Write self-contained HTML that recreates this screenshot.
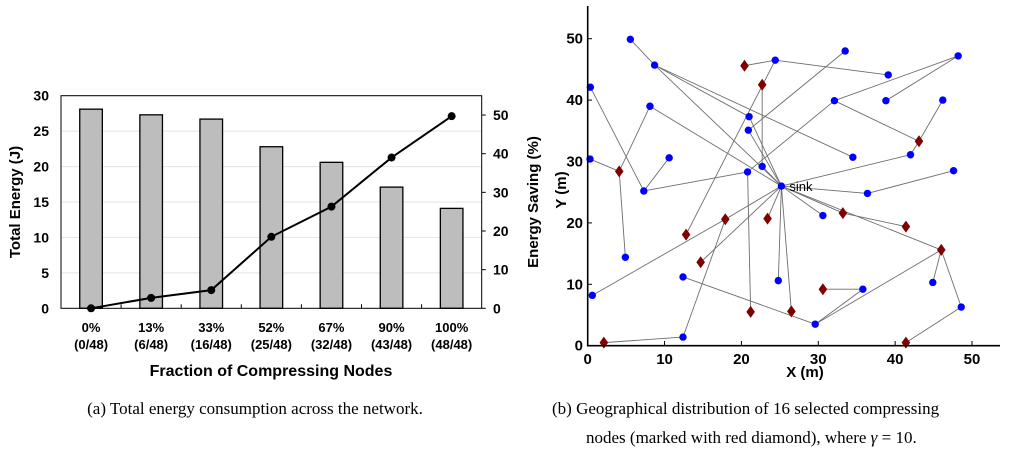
<!DOCTYPE html>
<html><head><meta charset="utf-8"><style>
html,body{margin:0;padding:0;background:#fff;width:1024px;height:456px;overflow:hidden}
svg{display:block}
.t{font-family:"Liberation Sans",sans-serif;font-weight:bold}
.cap{font-family:"Liberation Serif",serif;font-size:17px}
</style></head><body>
<svg id="s" width="1024" height="456" xmlns="http://www.w3.org/2000/svg">
<g id="left"></g>
<g id="right"></g>
<text class="cap" x="255" y="414" text-anchor="middle">(a)  Total energy consumption across the network.</text>
<text class="cap" x="552" y="414">(b)  Geographical distribution of 16 selected compressing</text>
<text class="cap" x="586" y="443">nodes (marked with red diamond), where <tspan font-style="italic">γ</tspan> = 10.</text>
</svg>
<script>
const categories=["0%","13%","33%","52%","67%","90%","100%"];
const fractions=["(0/48)","(6/48)","(16/48)","(25/48)","(32/48)","(43/48)","(48/48)"];
const energyValues=[28.1,27.3,26.7,22.8,20.6,17.1,14.1];
const savingValues=[0,2.7,4.7,18.5,26.3,39.0,49.7];
const leftTicks=[0,5,10,15,20,25,30];
const rightTicks=[0,10,20,30,40,50];
const blueNodes=[[5.55,49.9],[8.7,45.7],[0.35,42.1],[8.1,39.0],[0.3,30.4],[10.6,30.6],[7.3,25.2],[21.0,37.3],[20.9,35.1],[24.4,46.5],[33.5,48.0],[39.1,44.1],[48.2,47.2],[32.1,39.9],[38.8,39.9],[46.2,40.0],[34.5,30.7],[42.0,31.1],[47.6,28.5],[22.7,29.2],[20.8,28.3],[36.4,24.8],[30.6,21.2],[4.9,14.4],[0.6,8.2],[12.4,11.2],[24.8,10.6],[35.8,9.2],[44.9,10.3],[48.6,6.3],[29.6,3.5],[12.4,1.4]];
const redNodes=[[20.4,45.6],[22.7,42.5],[43.1,33.3],[4.1,28.4],[17.9,20.6],[23.4,20.7],[33.2,21.6],[41.4,19.4],[12.8,18.1],[14.7,13.6],[46.0,15.6],[30.6,9.2],[21.2,5.5],[26.5,5.6],[2.1,0.5],[41.4,0.5]];
const sinkNode=[25.2,26.0];
const edges=[[[5.55,49.9],[8.7,45.7]],[[8.7,45.7],[25.2,26.0]],[[34.5,30.7],[8.7,45.7]],[[8.7,45.7],[21.0,37.3]],[[21.0,37.3],[25.2,26.0]],[[0.35,42.1],[7.3,25.2]],[[8.1,39.0],[4.1,28.4]],[[8.1,39.0],[25.2,26.0]],[[0.3,30.4],[4.1,28.4]],[[4.1,28.4],[4.9,14.4]],[[10.6,30.6],[7.3,25.2]],[[7.3,25.2],[20.8,28.3]],[[20.8,28.3],[32.1,39.9]],[[21.2,5.5],[20.8,28.3]],[[32.1,39.9],[48.2,47.2]],[[38.8,39.9],[48.2,47.2]],[[32.1,39.9],[43.1,33.3]],[[46.2,40.0],[43.1,33.3]],[[43.1,33.3],[42.0,31.1]],[[42.0,31.1],[25.2,26.0]],[[20.4,45.6],[24.4,46.5]],[[24.4,46.5],[39.1,44.1]],[[12.8,18.1],[24.4,46.5]],[[22.7,42.5],[22.7,29.2]],[[22.7,29.2],[25.2,26.0]],[[33.5,48.0],[20.9,35.1]],[[20.9,35.1],[25.2,26.0]],[[47.6,28.5],[36.4,24.8]],[[36.4,24.8],[25.2,26.0]],[[30.6,21.2],[25.2,26.0]],[[33.2,21.6],[25.2,26.0]],[[41.4,19.4],[33.2,21.6]],[[46.0,15.6],[25.2,26.0]],[[44.9,10.3],[46.0,15.6]],[[48.6,6.3],[46.0,15.6]],[[29.6,3.5],[46.0,15.6]],[[35.8,9.2],[29.6,3.5]],[[30.6,9.2],[35.8,9.2]],[[12.4,11.2],[29.6,3.5]],[[41.4,0.5],[48.6,6.3]],[[0.6,8.2],[17.9,20.6]],[[17.9,20.6],[25.2,26.0]],[[12.4,1.4],[17.9,20.6]],[[2.1,0.5],[12.4,1.4]],[[14.7,13.6],[25.2,26.0]],[[23.4,20.7],[25.2,26.0]],[[24.8,10.6],[25.2,26.0]],[[26.5,5.6],[25.2,26.0]]];
const mapTicks=[0,10,20,30,40,50];

const NS="http://www.w3.org/2000/svg";
function mk(p,tag,a,txt){const e=document.createElementNS(NS,tag);for(const k in a)e.setAttribute(k,a[k]);if(txt!==undefined)e.textContent=txt;p.appendChild(e);return e;}

// LEFT CHART
const L=document.getElementById('left');
const x0=61,x1=481.7,yb=308.3;
const yL=v=>yb-v*(308.3-95.7)/30;
const yR=v=>yb-v*(308.3-95.7)/55;
const cw=(x1-x0)/categories.length;
const xc=i=>x0+cw*(i+0.5);
leftTicks.forEach(v=>{
 if(v>0){const g=mk(L,'line',{x1:x0,x2:x1,y1:yL(v),y2:yL(v),stroke:'#e3e3e3','stroke-width':1});
 
 }
 const t=mk(L,'text',{x:49,y:yL(v)+5,'text-anchor':'end','font-size':14,class:'t'},v);
 
 
});
rightTicks.forEach(v=>{
 const t=mk(L,'text',{x:493,y:yR(v)+5,'font-size':14,class:'t'},v);
 
 
 mk(L,'line',{x1:x1,x2:x1+4,y1:yR(v),y2:yR(v),stroke:'#000'});
});
energyValues.forEach((v,i)=>{
 const b=mk(L,'rect',{x:xc(i)-11.3,y:yL(v),width:22.6,height:yb-yL(v),fill:'#bdbdbd',stroke:'#000','stroke-width':1.3});
 
 
 const c=mk(L,'text',{x:xc(i),y:332,'text-anchor':'middle','font-size':13,class:'t'},categories[i]);
 
 
 const f=mk(L,'text',{x:xc(i),y:349,'text-anchor':'middle','font-size':13,class:'t'},fractions[i]);
 
 
 if(i>0)mk(L,'line',{x1:x0+cw*i,x2:x0+cw*i,y1:yb,y2:yb-4,stroke:'#000'});
});
mk(L,'rect',{x:x0,y:95.7,width:x1-x0,height:yb-95.7,fill:'none',stroke:'#000','stroke-width':1});
const pl=mk(L,'polyline',{points:savingValues.map((v,i)=>xc(i)+','+yR(v)).join(' '),fill:'none',stroke:'#000','stroke-width':2});


savingValues.forEach((v,i)=>{
 const c=mk(L,'circle',{cx:xc(i),cy:yR(v),r:4,fill:'#000'});
 
 
});
let tt=mk(L,'text',{x:0,y:0,'font-size':15,class:'t','text-anchor':'middle',transform:'translate(20,202) rotate(-90)'},'Total Energy (J)');

tt=mk(L,'text',{x:0,y:0,'font-size':15,class:'t','text-anchor':'middle',transform:'translate(538,202) rotate(-90)'},'Energy Saving (%)');

tt=mk(L,'text',{x:271,y:376,'font-size':16,class:'t','text-anchor':'middle'},'Fraction of Compressing Nodes');


// RIGHT CHART
const R=document.getElementById('right');
const mx=v=>587.7+v*(972-587.7)/50;
const my=v=>345.7-v*(345.7-38.7)/50;
edges.forEach(e=>{
 const l=mk(R,'line',{x1:mx(e[0][0]),y1:my(e[0][1]),x2:mx(e[1][0]),y2:my(e[1][1]),stroke:'#6e6e6e','stroke-width':0.9});
 
 
});
blueNodes.concat([sinkNode]).forEach(p=>{
 const c=mk(R,'circle',{cx:mx(p[0]),cy:my(p[1]),r:3.7,fill:'#0000ff'});
 
 
});
redNodes.forEach(p=>{
 const X=mx(p[0]),Y=my(p[1]);
 const d=mk(R,'polygon',{points:`${X},${Y-6} ${X+4.3},${Y} ${X},${Y+6} ${X-4.3},${Y}`,fill:'#800000'});
 
 
});
tt=mk(R,'text',{x:mx(sinkNode[0])+8,y:my(sinkNode[1])+5,'font-size':13,'font-family':'Liberation Sans,sans-serif'},'sink');

mk(R,'line',{x1:587.7,x2:587.7,y1:6,y2:346.5,stroke:'#000','stroke-width':1.6});
mk(R,'line',{x1:587,x2:1000,y1:345.7,y2:345.7,stroke:'#000','stroke-width':1.6});
mapTicks.forEach(v=>{
 mk(R,'line',{x1:mx(v),x2:mx(v),y1:345.7,y2:341,stroke:'#000'});
 mk(R,'line',{x1:587.7,x2:592,y1:my(v),y2:my(v),stroke:'#000'});
 let t=mk(R,'text',{x:mx(v),y:364,'text-anchor':'middle','font-size':15,class:'t'},v);
 
 t=mk(R,'text',{x:583,y:my(v)+5,'text-anchor':'end','font-size':15,class:'t'},v);
 
});
tt=mk(R,'text',{x:805,y:377,'text-anchor':'middle','font-size':15,class:'t'},'X (m)');

tt=mk(R,'text',{x:0,y:0,'text-anchor':'middle','font-size':15,class:'t',transform:'translate(566,190) rotate(-90)'},'Y (m)');

</script>
</body></html>
